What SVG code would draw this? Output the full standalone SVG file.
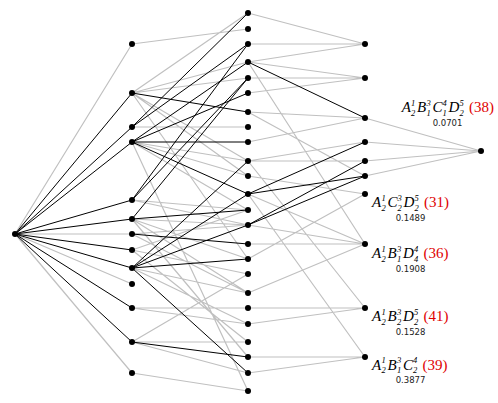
<svg xmlns="http://www.w3.org/2000/svg" width="498" height="403" viewBox="0 0 498 403">
<style>
.g{stroke:#c0c0c0;stroke-width:1.2;fill:none}
.k{stroke:#000;stroke-width:1;fill:none}
.n{fill:#000}
.m{font-family:"Liberation Serif",serif;font-style:italic;font-size:15px;fill:#000}
.s{font-size:8.5px}
.r{font-family:"Liberation Serif",serif;font-size:15px;fill:#e00000}
.v{font-family:"DejaVu Sans",sans-serif;font-size:8.5px;fill:#222;text-anchor:middle}
</style>
<g id="edges">
<path class="g" d="M15 234L132 44M15 234L132 234M15 234L132 284M15 234L132 373"/>
<path class="k" d="M15 234L132 93M15 234L132 127M15 234L132 142M15 234L132 200M15 234L132 219M15 234L132 250M15 234L132 268M15 234L132 308M15 234L132 342"/>
<path class="g" d="M132 44L248 29M132 93L248 13M132 93L248 62M132 93L248 78M132 93L248 161M132 93L248 176M132 93L248 259M132 127L248 127M132 142L248 161M132 142L248 176M132 142L248 210M132 142L248 391M132 200L248 210M132 200L248 225M132 219L248 225M132 219L248 259M132 219L248 293M132 219L248 357M132 234L248 225M132 234L248 293M132 250L248 210M132 250L248 274M132 250L248 342M132 268L248 293M132 268L248 324M132 308L248 308M132 308L248 324M132 342L248 342M132 342L248 274M132 342L248 373M132 373L248 391"/>
<path class="k" d="M132 93L248 112M132 127L248 13M132 127L248 44M132 142L248 142M132 142L248 194M132 142L248 62M132 142L248 93M132 200L248 78M132 200L248 44M132 219L248 210M132 219L248 78M132 234L248 244M132 268L248 161M132 268L248 194M132 268L248 225M132 268L248 259M132 268L248 373M132 342L248 357"/>
<path class="g" d="M248 13L365 44M248 44L365 44M248 62L365 44M248 62L365 78M248 62L365 244M248 78L365 78M248 93L365 78M248 112L365 118M248 112L365 176M248 142L365 118M248 161L365 142M248 161L365 161M248 161L365 308M248 176L365 194M248 194L365 357M248 194L365 244M248 225L365 244M248 244L365 244M248 259L365 194M248 293L365 244M248 308L365 308M248 324L365 308M248 357L365 357M248 373L365 357"/>
<path class="k" d="M248 62L365 118M248 194L365 142M248 194L365 176M248 225L365 161M248 225L365 176"/>
<path class="g" d="M365 118L481 151M365 142L481 151M365 161L481 151M365 176L481 151"/>
</g>
<g id="root"><circle class="n" cx="15" cy="234" r="3"/></g>
<g id="layer1">
<circle class="n" cx="132" cy="44" r="3"/><circle class="n" cx="132" cy="93" r="3"/><circle class="n" cx="132" cy="127" r="3"/><circle class="n" cx="132" cy="142" r="3"/><circle class="n" cx="132" cy="200" r="3"/><circle class="n" cx="132" cy="219" r="3"/><circle class="n" cx="132" cy="234" r="3"/><circle class="n" cx="132" cy="250" r="3"/><circle class="n" cx="132" cy="268" r="3"/><circle class="n" cx="132" cy="284" r="3"/><circle class="n" cx="132" cy="308" r="3"/><circle class="n" cx="132" cy="342" r="3"/><circle class="n" cx="132" cy="373" r="3"/>
</g>
<g id="layer2">
<circle class="n" cx="248" cy="13" r="3"/><circle class="n" cx="248" cy="29" r="3"/><circle class="n" cx="248" cy="44" r="3"/><circle class="n" cx="248" cy="62" r="3"/><circle class="n" cx="248" cy="78" r="3"/><circle class="n" cx="248" cy="93" r="3"/><circle class="n" cx="248" cy="112" r="3"/><circle class="n" cx="248" cy="127" r="3"/><circle class="n" cx="248" cy="142" r="3"/><circle class="n" cx="248" cy="161" r="3"/><circle class="n" cx="248" cy="176" r="3"/><circle class="n" cx="248" cy="194" r="3"/><circle class="n" cx="248" cy="210" r="3"/><circle class="n" cx="248" cy="225" r="3"/><circle class="n" cx="248" cy="244" r="3"/><circle class="n" cx="248" cy="259" r="3"/><circle class="n" cx="248" cy="274" r="3"/><circle class="n" cx="248" cy="293" r="3"/><circle class="n" cx="248" cy="308" r="3"/><circle class="n" cx="248" cy="324" r="3"/><circle class="n" cx="248" cy="342" r="3"/><circle class="n" cx="248" cy="357" r="3"/><circle class="n" cx="248" cy="373" r="3"/><circle class="n" cx="248" cy="391" r="3"/>
</g>
<g id="layer3">
<circle class="n" cx="365" cy="44" r="3"/><circle class="n" cx="365" cy="78" r="3"/><circle class="n" cx="365" cy="118" r="3"/><circle class="n" cx="365" cy="142" r="3"/><circle class="n" cx="365" cy="161" r="3"/><circle class="n" cx="365" cy="176" r="3"/><circle class="n" cx="365" cy="194" r="3"/><circle class="n" cx="365" cy="244" r="3"/><circle class="n" cx="365" cy="308" r="3"/><circle class="n" cx="365" cy="357" r="3"/>
</g>
<g id="final"><circle class="n" cx="481" cy="151" r="3"/></g>
<g id="label38">
<text class="m"><tspan x="401.7" y="112">A</tspan><tspan class="s" x="411" y="105.5">1</tspan><tspan class="s" x="411" y="115.5">2</tspan><tspan x="417" y="112">B</tspan><tspan class="s" x="426.5" y="105.5">3</tspan><tspan class="s" x="426.5" y="115.5">1</tspan><tspan x="432.5" y="112">C</tspan><tspan class="s" x="442.5" y="105.5">4</tspan><tspan class="s" x="442.5" y="115.5">1</tspan><tspan x="448.5" y="112">D</tspan><tspan class="s" x="459.5" y="105.5">5</tspan><tspan class="s" x="459.5" y="115.5">2</tspan></text>
<text class="r" x="469" y="112">(38)</text>
<text class="v" x="447.5" y="125.5">0.0701</text>
</g>
<g id="label31">
<text class="m"><tspan x="372" y="207">A</tspan><tspan class="s" x="381.5" y="200.5">1</tspan><tspan class="s" x="381.5" y="210.5">2</tspan><tspan x="387.5" y="207">C</tspan><tspan class="s" x="397.5" y="200.5">3</tspan><tspan class="s" x="397.5" y="210.5">2</tspan><tspan x="403.5" y="207">D</tspan><tspan class="s" x="414.5" y="200.5">5</tspan><tspan class="s" x="414.5" y="210.5">2</tspan></text>
<text class="r" x="424" y="207">(31)</text>
<text class="v" x="410.5" y="220.5">0.1489</text>
</g>
<g id="label36">
<text class="m"><tspan x="372" y="258">A</tspan><tspan class="s" x="381.5" y="251.5">1</tspan><tspan class="s" x="381.5" y="261.5">2</tspan><tspan x="387.5" y="258">B</tspan><tspan class="s" x="397" y="251.5">3</tspan><tspan class="s" x="397" y="261.5">1</tspan><tspan x="403" y="258">D</tspan><tspan class="s" x="414" y="251.5">4</tspan><tspan class="s" x="414" y="261.5">4</tspan></text>
<text class="r" x="423.5" y="258">(36)</text>
<text class="v" x="410.5" y="271.5">0.1908</text>
</g>
<g id="label41">
<text class="m"><tspan x="372" y="321">A</tspan><tspan class="s" x="381.5" y="314.5">1</tspan><tspan class="s" x="381.5" y="324.5">2</tspan><tspan x="387.5" y="321">B</tspan><tspan class="s" x="397" y="314.5">3</tspan><tspan class="s" x="397" y="324.5">2</tspan><tspan x="403" y="321">D</tspan><tspan class="s" x="414" y="314.5">5</tspan><tspan class="s" x="414" y="324.5">2</tspan></text>
<text class="r" x="423.5" y="321">(41)</text>
<text class="v" x="410.5" y="334.5">0.1528</text>
</g>
<g id="label39">
<text class="m"><tspan x="372" y="369.5">A</tspan><tspan class="s" x="381.5" y="363">1</tspan><tspan class="s" x="381.5" y="373">2</tspan><tspan x="387.5" y="369.5">B</tspan><tspan class="s" x="397" y="363">3</tspan><tspan class="s" x="397" y="373">1</tspan><tspan x="403" y="369.5">C</tspan><tspan class="s" x="413" y="363">4</tspan><tspan class="s" x="413" y="373">2</tspan></text>
<text class="r" x="422.5" y="369.5">(39)</text>
<text class="v" x="410.5" y="383">0.3877</text>
</g>
</svg>
